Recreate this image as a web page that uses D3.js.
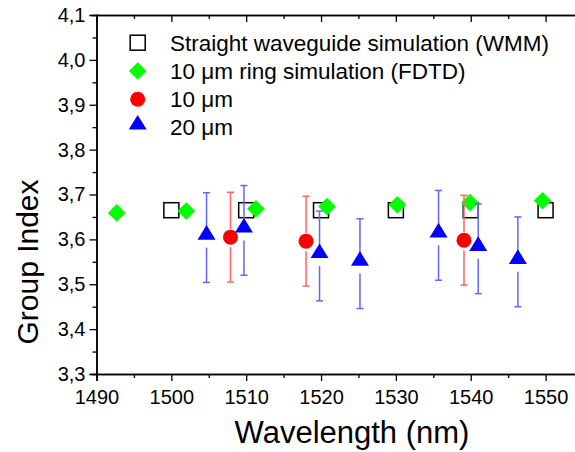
<!DOCTYPE html>
<html>
<head>
<meta charset="utf-8">
<script src="https://cdn.jsdelivr.net/npm/d3@7"></script>
<style>
  body { margin: 0; background: #fff; }
  text { font-family: Arial, "Liberation Sans", sans-serif; fill: #000; }
</style>
</head>
<body>
<script>
// Data
// =================================
var wmmX = [1500, 1510, 1520, 1530, 1540, 1550];
var wmmY = [3.665, 3.665, 3.665, 3.665, 3.665, 3.665];

var fdtdX = [1492.7, 1502.0, 1511.3, 1520.8, 1530.2, 1539.9, 1549.6];
var fdtdY = [3.659, 3.663, 3.668, 3.673, 3.677, 3.682, 3.686];

var ring10X = [1507.9, 1518.0, 1539.1];
var ring10Y = [3.605, 3.596, 3.598];
var ring10Err = [0.1, 0.1, 0.1];

var ring20X = [1504.7, 1509.7, 1519.8, 1525.2, 1535.7, 1541.0, 1546.3];
var ring20Y = [3.604, 3.620, 3.563, 3.546, 3.609, 3.579, 3.550];
var ring20Err = [0.1, 0.1, 0.1, 0.1, 0.1, 0.1, 0.1];

var xTicks = [1490, 1500, 1510, 1520, 1530, 1540, 1550];
var yTicks = [3.3, 3.4, 3.5, 3.6, 3.7, 3.8, 3.9, 4.0, 4.1];

var legendLabels = [
  "Straight waveguide simulation (WMM)",
  "10 \u03bcm ring simulation (FDTD)",
  "10 \u03bcm",
  "20 \u03bcm"
];

// Set up the chart
// =================================
var svgWidth = 575;
var svgHeight = 452;

var margin = { top: 15, right: -8, bottom: 78, left: 96.5 };
var width = svgWidth - margin.left - margin.right;
var height = svgHeight - margin.top - margin.bottom;

var svg = d3.select("body")
  .append("svg")
  .attr("width", svgWidth)
  .attr("height", svgHeight);

var chartGroup = svg.append("g")
  .attr("transform", `translate(${margin.left}, ${margin.top})`);

// Scales
var xScale = d3.scaleLinear().domain([1490, 1555]).range([0, width]);
var yScale = d3.scaleLinear().domain([3.3, 4.1]).range([height, 0]);

var comma = v => d3.format(".1f")(v).replace(".", ",");

// Axes
// =================================
var bottomAxis = d3.axisBottom(xScale).tickValues(xTicks).tickSize(7).tickPadding(9).tickFormat(d3.format("d"));
var bottomMinor = d3.axisBottom(xScale).tickValues(d3.range(1495, 1555, 10)).tickSize(4).tickFormat("");
var topAxis = d3.axisBottom(xScale).tickValues(xTicks).tickSize(7).tickFormat("");
var topMinor = d3.axisBottom(xScale).tickValues(d3.range(1495, 1555, 10)).tickSize(4).tickFormat("");
var leftAxis = d3.axisLeft(yScale).tickValues(yTicks).tickSize(7).tickPadding(4).tickFormat(comma);
var leftMinor = d3.axisLeft(yScale).tickValues(d3.range(3.35, 4.1, 0.1)).tickSize(4).tickFormat("");

function styleAxis(g) {
  g.select(".domain").attr("stroke", "#000").attr("stroke-width", 1.5);
  g.selectAll(".tick line").attr("stroke", "#000").attr("stroke-width", 1.3);
  g.selectAll("text").attr("font-size", "20px").attr("font-family", "Arial, 'Liberation Sans', sans-serif");
}

chartGroup.append("g").attr("transform", `translate(0, ${height})`).call(bottomAxis).call(styleAxis);
chartGroup.append("g").attr("transform", `translate(0, ${height})`).call(bottomMinor).call(styleAxis);
chartGroup.append("g").call(topAxis).call(styleAxis);
chartGroup.append("g").call(topMinor).call(styleAxis);
chartGroup.append("g").call(leftAxis).call(styleAxis);
chartGroup.append("g").call(leftMinor).call(styleAxis);

// Series
// =================================
// straight waveguide: open squares
chartGroup.selectAll(".wmm")
  .data(wmmX)
  .enter()
  .append("rect")
  .attr("x", (d, i) => xScale(d) - 7.5)
  .attr("y", (d, i) => yScale(wmmY[i]) - 7.5)
  .attr("width", 15)
  .attr("height", 15)
  .attr("fill", "none")
  .attr("stroke", "#000")
  .attr("stroke-width", 1.5);

// FDTD: green diamonds
var diamond = d3.symbol().type(d3.symbolSquare).size(156);
chartGroup.selectAll(".fdtd")
  .data(fdtdX)
  .enter()
  .append("path")
  .attr("d", diamond)
  .attr("transform", (d, i) => `translate(${xScale(d)}, ${yScale(fdtdY[i])}) rotate(45)`)
  .attr("fill", "#00ff00");

// error bars with a gap around the marker
function errorBars(xs, ys, errs, color) {
  var g = chartGroup.append("g")
    .attr("stroke", color)
    .attr("stroke-width", 1.5);
  xs.forEach(function(x, i) {
    var cx = xScale(x);
    var cy = yScale(ys[i]);
    var top = yScale(ys[i] + errs[i]);
    var bot = yScale(ys[i] - errs[i]);
    g.append("line").attr("x1", cx).attr("x2", cx).attr("y1", top).attr("y2", cy - 8);
    g.append("line").attr("x1", cx).attr("x2", cx).attr("y1", cy + 10).attr("y2", bot);
    g.append("line").attr("x1", cx - 3.5).attr("x2", cx + 3.5).attr("y1", top).attr("y2", top);
    g.append("line").attr("x1", cx - 3.5).attr("x2", cx + 3.5).attr("y1", bot).attr("y2", bot);
  });
}

// 10 um: red circles
errorBars(ring10X, ring10Y, ring10Err, "#ff6464");
chartGroup.selectAll(".r10")
  .data(ring10X)
  .enter()
  .append("circle")
  .attr("cx", d => xScale(d))
  .attr("cy", (d, i) => yScale(ring10Y[i]))
  .attr("r", 7.5)
  .attr("fill", "#ff0000");

// 20 um: blue triangles
errorBars(ring20X, ring20Y, ring20Err, "#6464ff");
var tri = "M0,-10L9,4.6L-9,4.6Z";
chartGroup.selectAll(".r20")
  .data(ring20X)
  .enter()
  .append("path")
  .attr("d", tri)
  .attr("transform", (d, i) => `translate(${xScale(d)}, ${yScale(ring20Y[i]) - 2.5})`)
  .attr("fill", "#0000ff");

// Legend
// =================================
var legendY = [42.7, 71, 99.3, 127];
var legend = svg.append("g");
legend.append("rect").attr("x", 130.2).attr("y", legendY[0] - 7.5).attr("width", 15).attr("height", 15)
  .attr("fill", "none").attr("stroke", "#000").attr("stroke-width", 1.5);
legend.append("path").attr("d", diamond).attr("transform", `translate(137.7, ${legendY[1]}) rotate(45)`).attr("fill", "#00ff00");
legend.append("circle").attr("cx", 137.7).attr("cy", legendY[2]).attr("r", 7.5).attr("fill", "#ff0000");
legend.append("path").attr("d", tri).attr("transform", `translate(137.7, ${legendY[3] - 2})`).attr("fill", "#0000ff");

legend.selectAll(".lbl")
  .data(legendLabels)
  .enter()
  .append("text")
  .attr("x", 170)
  .attr("y", (d, i) => legendY[i])
  .attr("dy", "0.36em")
  .attr("font-size", "22.5px")
  .text(d => d);

// Axis titles
// =================================
svg.append("text")
  .attr("transform", "translate(38, 262) rotate(-90)")
  .attr("text-anchor", "middle")
  .attr("font-size", "30px")
  .text("Group Index");

svg.append("text")
  .attr("x", 352)
  .attr("y", 443)
  .attr("text-anchor", "middle")
  .attr("font-size", "31px")
  .text("Wavelength (nm)");
</script>
</body>
</html>
